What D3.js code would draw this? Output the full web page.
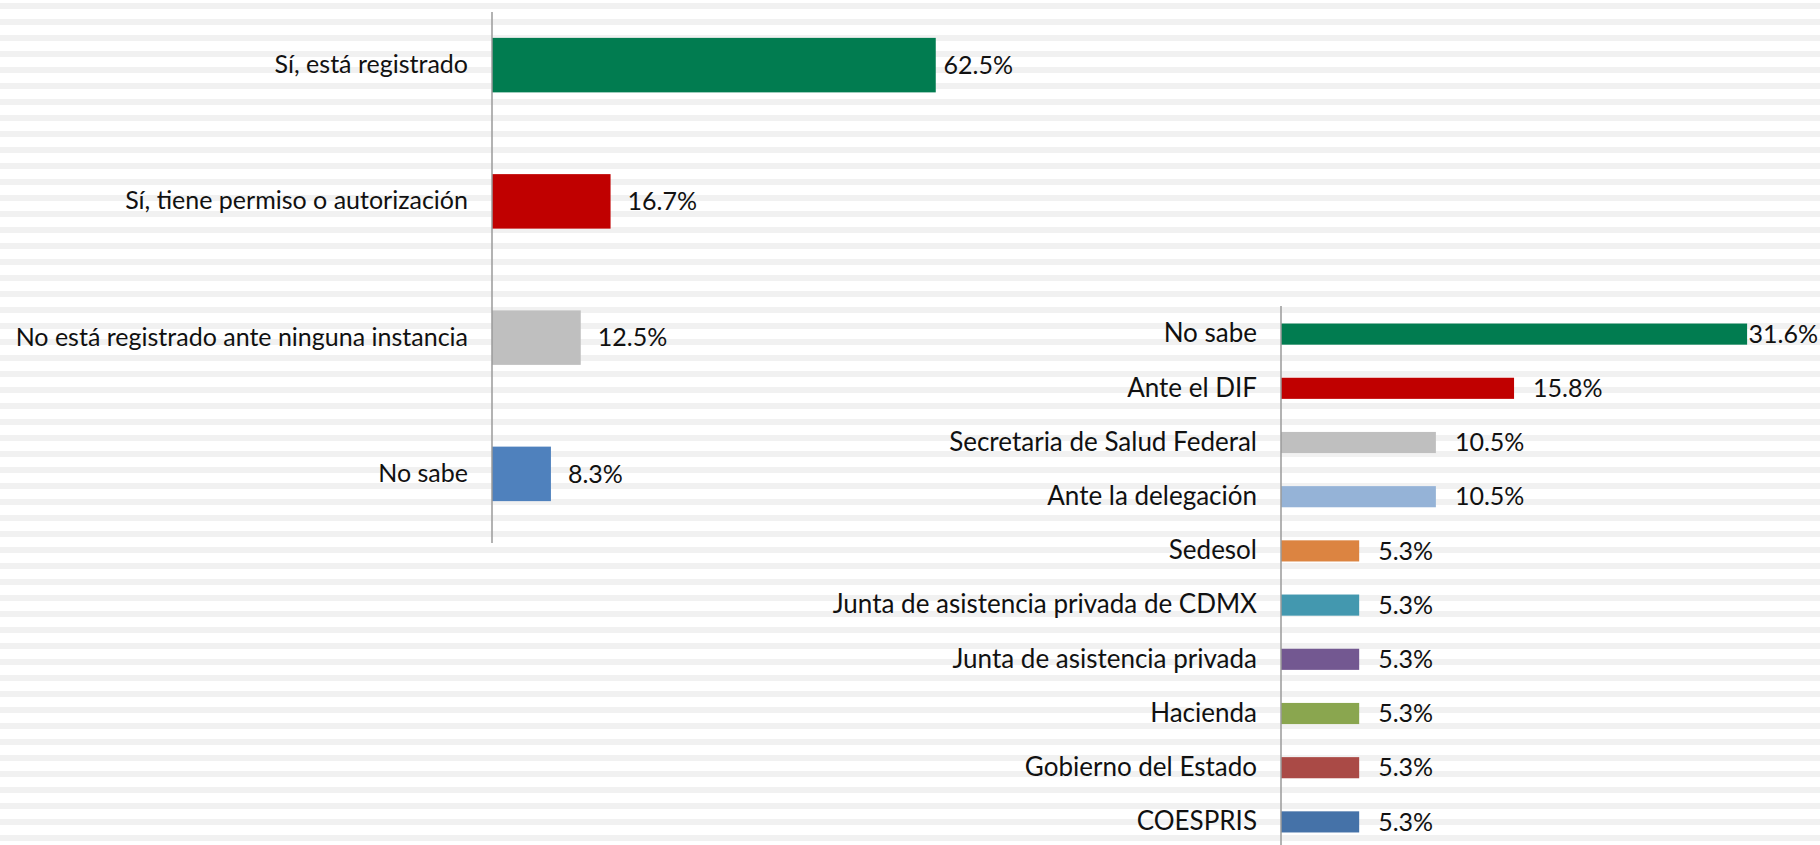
<!DOCTYPE html>
<html>
<head>
<meta charset="utf-8">
<script src="https://cdn.jsdelivr.net/npm/d3@7"></script>
<style>
  body { margin: 0; background: #fff; }
  svg text { font-family: Lato, "Open Sans", sans-serif; fill: #111; }
</style>
</head>
<body>
<div id="chart"></div>
<script>
// left chart: ¿está registrado?
var leftCategories = ["Sí, está registrado", "Sí, tiene permiso o autorización",
    "No está registrado ante ninguna instancia", "No sabe"];
var leftValues = [62.5, 16.7, 12.5, 8.3];
var leftColors = ["#017c50", "#c00000", "#bfbfbf", "#4f81bd"];

// right chart: ¿ante quién?
var rightCategories = ["No sabe", "Ante el DIF", "Secretaria de Salud Federal",
    "Ante la delegación", "Sedesol", "Junta de asistencia privada de CDMX",
    "Junta de asistencia privada", "Hacienda", "Gobierno del Estado", "COESPRIS"];
var rightValues = [31.6, 15.8, 10.5, 10.5, 5.3, 5.3, 5.3, 5.3, 5.3, 5.3];
var rightColors = ["#017c50", "#c00000", "#bfbfbf", "#95b3d7", "#dc8441",
    "#4398af", "#735891", "#8aa64f", "#aa4a46", "#4572a8"];

var W = 1820, H = 845;

var svg = d3.select("#chart").append("svg")
    .attr("width", W)
    .attr("height", H);

// striped background
var stripes = d3.range(3, H, 16);
svg.append("g").selectAll("rect")
    .data(stripes)
    .enter().append("rect")
    .attr("x", 0)
    .attr("y", function (d) { return d; })
    .attr("width", W)
    .attr("height", 6)
    .attr("fill", "#f1f1f1");

function drawBars(cfg) {
    var x = d3.scaleLinear()
        .domain([0, cfg.max])
        .range([cfg.left, cfg.left + cfg.max * cfg.pxPer]);

    var y = d3.scaleBand()
        .domain(cfg.categories)
        .range(cfg.yRange)
        .paddingInner(cfg.padInner)
        .paddingOuter(cfg.padInner / 2);

    var data = cfg.categories.map(function (c, i) {
        return {cat: c, value: cfg.values[i], color: cfg.colors[i]};
    });

    var g = svg.append("g");

    g.selectAll("rect.bar")
        .data(data)
        .enter().append("rect")
        .attr("class", "bar")
        .attr("x", x(0))
        .attr("y", function (d) { return y(d.cat); })
        .attr("width", function (d) { return x(d.value) - x(0); })
        .attr("height", y.bandwidth())
        .attr("fill", function (d) { return d.color; });

    // category labels
    var ax = g.append("g")
        .attr("transform", "translate(" + x(0) + ",0)")
        .call(d3.axisLeft(y).tickSize(0).tickPadding(24));
    ax.select(".domain").remove();
    ax.selectAll("text")
        .style("font-size", cfg.catSize + "px")
        .style("font-family", "Lato, sans-serif")
        .attr("fill", "#111");

    g.append("line")
        .attr("x1", x(0)).attr("x2", x(0))
        .attr("y1", cfg.axisY[0]).attr("y2", cfg.axisY[1])
        .style("stroke", "#9a9a9a")
        .style("stroke-width", "1.5px");

    // value labels
    g.selectAll("text.val")
        .data(data)
        .enter().append("text")
        .attr("class", "val")
        .attr("y", function (d) { return y(d.cat) + y.bandwidth() / 2; })
        .attr("dy", "0.35em")
        .style("font-size", cfg.fontSize + "px")
        .text(function (d) { return d.value.toFixed(1) + "%"; })
        .attr("x", function (d) {
            var tw = this.getComputedTextLength();
            return Math.min(x(d.value) + cfg.gap, cfg.rightEdge - tw);
        });
}

drawBars({
    categories: leftCategories, values: leftValues, colors: leftColors,
    max: 70, left: 492, pxPer: 7.1,
    yRange: [-3, 542], padInner: 0.6, axisY: [12, 543],
    gap: 17, rightEdge: 1013, fontSize: 25, catSize: 25
});

drawBars({
    categories: rightCategories, values: rightValues, colors: rightColors,
    max: 35, left: 1281, pxPer: 14.75,
    yRange: [307, 849], padInner: 0.61, axisY: [306, 845],
    gap: 19, rightEdge: 1818, fontSize: 25, catSize: 26
});
</script>
</body>
</html>
